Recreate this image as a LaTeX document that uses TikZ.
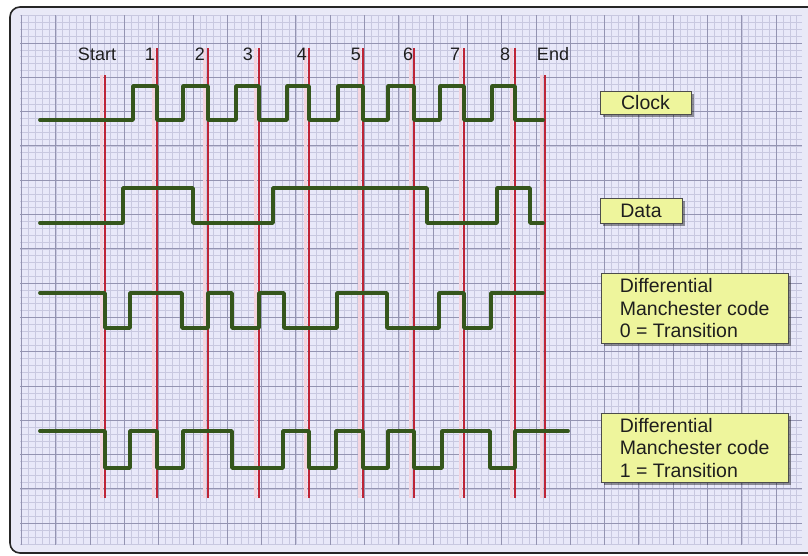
\documentclass[tikz,border=0pt]{standalone}
\usepackage{fontspec}
\setmainfont{Liberation Sans}
\usetikzlibrary{shadows}
\definecolor{framefill}{HTML}{E9E9F7}
\definecolor{bgc}{HTML}{E8E8F9}
\definecolor{minorc}{HTML}{C8C8E0}
\definecolor{majorc}{HTML}{9494B2}
\definecolor{wavec}{HTML}{35561C}
\definecolor{redc}{HTML}{BE2436}
\definecolor{haloc}{HTML}{F4D4DE}
\definecolor{boxc}{HTML}{EEF59C}
\definecolor{txtc}{HTML}{1E1E1E}
\begin{document}
\begin{tikzpicture}[x=1pt,y=-1pt,
  wave/.style={wavec, line width=3.8pt, line join=round, line cap=round},
  redline/.style={redc, line width=1.7pt},
  halo/.style={haloc, line width=2.4pt},
  lbl/.style={font=\fontsize{18}{21}\selectfont, text=txtc, anchor=base, inner sep=0pt},
  infobox/.style={draw=black!70, line width=0.8pt, fill=boxc, text=txtc,
    font=\fontsize{19.5}{22.5}\selectfont,
    drop shadow={shadow xshift=3pt, shadow yshift=-3pt, opacity=0.4, fill=black}}]
\useasboundingbox (0,0) rectangle (808,555);
\clip (0,0) rectangle (808,555);
\fill[white] (0,0) rectangle (808,555);
% frame
\draw[draw=black!85, line width=1.6pt, fill=framefill, rounded corners=10pt] (10,7) rectangle (840,553);
% grid
\begin{scope}
  \clip (20,15) rectangle (802,545);
  \fill[bgc] (20,15) rectangle (802,545);
  \foreach \i in {0,...,114} {
    \draw[minorc, line width=0.55pt] ({21.5+6.86*\i},15) -- ({21.5+6.86*\i},545);
  }
  \foreach \j in {-4,...,73} {
    \draw[minorc, line width=0.55pt] (20,{43+6.86*\j}) -- (802,{43+6.86*\j});
  }
  \foreach \k in {0,...,22} {
    \draw[majorc, line width=0.9pt] ({21.5+34.3*\k},15) -- ({21.5+34.3*\k},545);
  }
  \foreach \k in {-1,...,14} {
    \draw[majorc, line width=0.9pt] (20,{43+34.3*\k}) -- (802,{43+34.3*\k});
  }
\end{scope}
% red lines
\foreach \x in {157,208,259,309,363,414,464,515} {
  \draw[halo] (\x-3.5,48) -- (\x-3.5,498);
  \draw[redline] (\x,48) -- (\x,498);
}
\foreach \x in {105,545} {
  \draw[halo] (\x-3.5,75) -- (\x-3.5,498);
  \draw[redline] (\x,75) -- (\x,498);
}
% waveforms
\draw[wave] (40,120) -- (133,120) -- (133,86) -- (157,86) -- (157,120) -- (183,120) -- (183,86) -- (208,86) -- (208,120) -- (236,120) -- (236,86) -- (259,86) -- (259,120) -- (287,120) -- (287,86) -- (309,86) -- (309,120) -- (338,120) -- (338,86) -- (363,86) -- (363,120) -- (388,120) -- (388,86) -- (414,86) -- (414,120) -- (440,120) -- (440,86) -- (464,86) -- (464,120) -- (492,120) -- (492,86) -- (515,86) -- (515,120) -- (543,120);
\draw[wave] (40,223) -- (123,223) -- (123,188) -- (193,188) -- (193,223) -- (273,223) -- (273,188) -- (427,188) -- (427,223) -- (497,223) -- (497,188) -- (530,188) -- (530,223) -- (543,223);
\draw[wave] (40,293) -- (105,293) -- (105,328) -- (130,328) -- (130,293) -- (182,293) -- (182,328) -- (208,328) -- (208,293) -- (232,293) -- (232,328) -- (259,328) -- (259,293) -- (284,293) -- (284,328) -- (337,328) -- (337,293) -- (387,293) -- (387,328) -- (439,328) -- (439,293) -- (464,293) -- (464,328) -- (491,328) -- (491,293) -- (543,293);
\draw[wave] (40,431) -- (105,431) -- (105,468) -- (130,468) -- (130,431) -- (157,431) -- (157,468) -- (183,468) -- (183,431) -- (232,431) -- (232,468) -- (283,468) -- (283,431) -- (309,431) -- (309,468) -- (336,468) -- (336,431) -- (363,431) -- (363,468) -- (388,468) -- (388,431) -- (414,431) -- (414,468) -- (442,468) -- (442,431) -- (490,431) -- (490,468) -- (515,468) -- (515,431) -- (568,431);
% labels
\node[lbl] (lStart) at (97,60) {Start};
\node[lbl] (l1) at (150,60) {1};
\node[lbl] (l2) at (200,60) {2};
\node[lbl] (l3) at (248,60) {3};
\node[lbl] (l4) at (302,60) {4};
\node[lbl] (l5) at (356,60) {5};
\node[lbl] (l6) at (408,60) {6};
\node[lbl] (l7) at (455,60) {7};
\node[lbl] (l8) at (505,60) {8};
\node[lbl] (lEnd) at (553,60) {End};
% boxes
\node[infobox, minimum width=91pt, minimum height=23pt, inner sep=0pt] (bClock) at (645.5,102.5) {Clock};
\node[infobox, minimum width=82pt, minimum height=25pt, inner sep=0pt] (bData) at (641,210.5) {Data};
\node[infobox, anchor=north west, align=left, inner xsep=18.5pt, minimum height=70pt] (bDM0) at (601,273) {Differential\\Manchester code\\0 = Transition};
\node[infobox, anchor=north west, align=left, inner xsep=18.5pt, minimum height=69pt] (bDM1) at (601,413) {Differential\\Manchester code\\1 = Transition};
\end{tikzpicture}
\end{document}
